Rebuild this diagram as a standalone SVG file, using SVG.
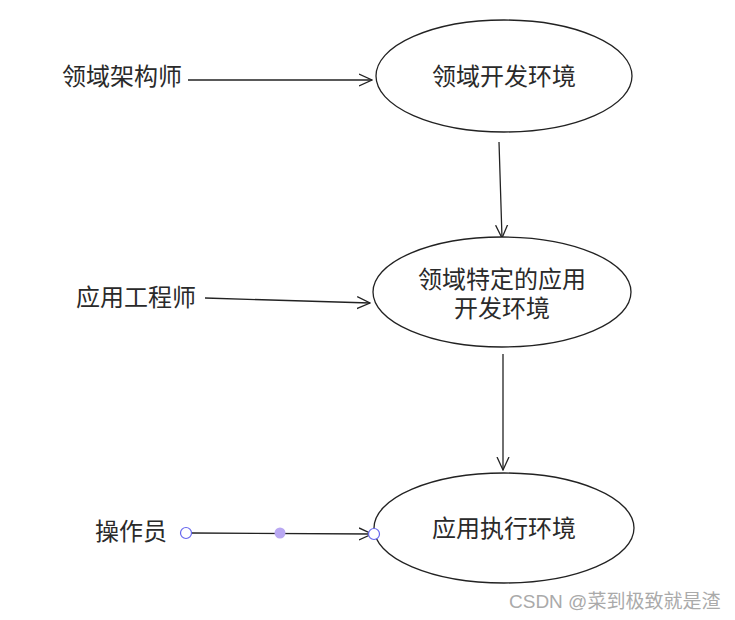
<svg xmlns="http://www.w3.org/2000/svg" width="735" height="620" viewBox="0 0 735 620">
<defs>
<style>
.lbl{font-family:"Liberation Sans","Noto Sans CJK SC",sans-serif;font-size:24px;fill:#2a2a2a;}
.node{fill:#fff;stroke:#222;stroke-width:1.3;}
.conn{stroke:#222;stroke-width:1.3;fill:none;}
.wm{font-family:"Liberation Sans","Noto Sans CJK SC",sans-serif;font-size:19px;fill:#aaa;}
</style>
<marker id="arr" viewBox="0 0 14 14" refX="13" refY="7" markerWidth="14" markerHeight="14" markerUnits="userSpaceOnUse" orient="auto">
<path d="M0,1 L13,7 L0,13" fill="none" stroke="#222" stroke-width="1.3"/>
</marker>
</defs>
<rect width="735" height="620" fill="#fff"/>
<g id="connectors">
<path class="conn" d="M188,80 L372,80" marker-end="url(#arr)"/>
<path class="conn" d="M205,298 L370,303" marker-end="url(#arr)"/>
<path class="conn" d="M499,142 L502,238" marker-end="url(#arr)"/>
<path class="conn" d="M503,354 L503,470" marker-end="url(#arr)"/>
<path class="conn" d="M192,533 L372,534" marker-end="url(#arr)"/>
<circle cx="186" cy="533" r="5.5" fill="#fff" stroke="#6666ee" stroke-width="1.2"/>
<circle cx="280" cy="533" r="5.5" fill="#b9a8f2"/>
</g>
<g id="n1"><ellipse class="node" cx="504" cy="76" rx="128" ry="56"/><text class="lbl" x="504" y="85" text-anchor="middle">领域开发环境</text></g>
<g id="n2"><ellipse class="node" cx="502" cy="292" rx="129" ry="55"/><text class="lbl" x="502" y="288" text-anchor="middle">领域特定的应用</text><text class="lbl" x="502" y="317" text-anchor="middle">开发环境</text></g>
<g id="n3"><ellipse class="node" cx="504" cy="528" rx="130" ry="55"/><text class="lbl" x="504" y="537" text-anchor="middle">应用执行环境</text></g>
<circle cx="374" cy="534" r="5.5" fill="#fff" stroke="#6666ee" stroke-width="1.2"/>
<g id="a1"><text class="lbl" x="62" y="85">领域架构师</text></g>
<g id="a2"><text class="lbl" x="76" y="306">应用工程师</text></g>
<g id="a3"><text class="lbl" x="95" y="540">操作员</text></g>
<text class="wm" x="509" y="608">CSDN @菜到极致就是渣</text>
</svg>
